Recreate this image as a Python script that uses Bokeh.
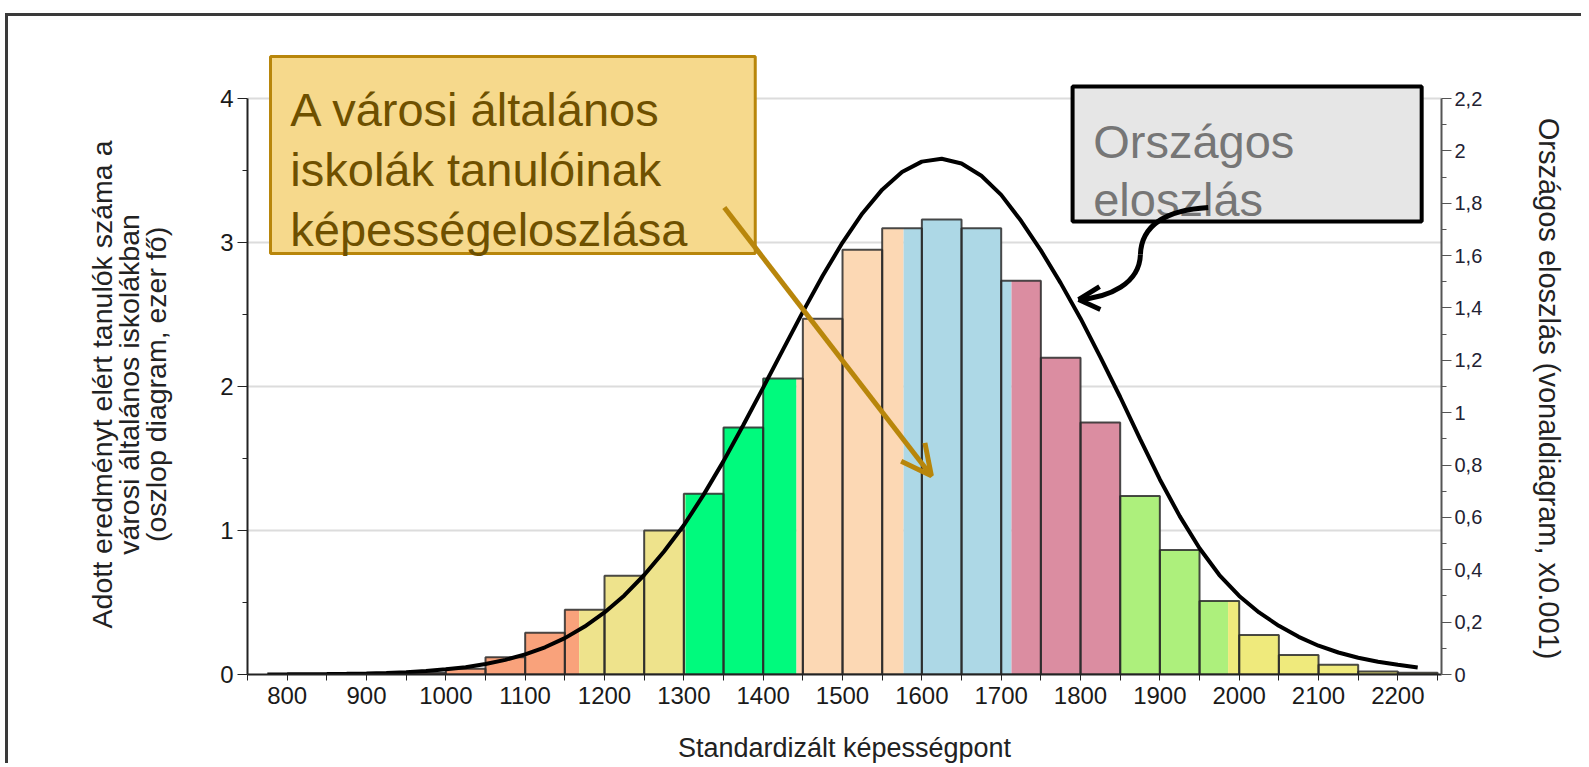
from bokeh.plotting import figure
from bokeh.models import (Range1d, LinearAxis, FixedTicker, BoxAnnotation, Label, Arrow,
                          OpenHead, Title)
from bokeh.embed import file_html
from bokeh.resources import INLINE

FONT = "Liberation Sans"

# ---------------- data ----------------
bin_starts = [800, 850, 900, 950, 1000, 1050, 1100, 1150, 1200, 1250, 1300, 1350, 1400, 1450,
              1500, 1550, 1600, 1650, 1700, 1750, 1800, 1850, 1900, 1950, 2000, 2050, 2100,
              2150, 2200]
bin_counts = [0.003, 0.004, 0.006, 0.01, 0.04, 0.12, 0.29, 0.45, 0.685, 1.0, 1.255, 1.715,
              2.055, 2.47, 2.95, 3.10, 3.16, 3.10, 2.735, 2.20, 1.75, 1.24, 0.865, 0.51,
              0.275, 0.135, 0.068, 0.02, 0.012]
BIN_W = 50

# ability-level bands (boundaries on the score axis) and their colours
level_edges = [1168, 1302, 1442, 1577, 1713, 1850, 1986]
level_colors = ["#F9A27B", "#EEE38C", "#00FA7D", "#FCD8B4", "#ADD8E6", "#DB8DA1",
                "#ADF07C", "#EFEA7C"]

# national distribution curve (right axis, x0.001)
curve_x = list(range(775, 2250, 25))
curve_y = [0.0004, 0.0006, 0.001, 0.0016, 0.0026, 0.004, 0.006, 0.009, 0.0135, 0.0197,
           0.028, 0.040, 0.056, 0.077, 0.104, 0.139, 0.183, 0.237, 0.302, 0.380, 0.470,
           0.570, 0.687, 0.815, 0.953, 1.096, 1.241, 1.385, 1.523, 1.650, 1.761, 1.852,
           1.919, 1.959, 1.970, 1.952, 1.905, 1.832, 1.733, 1.620, 1.495, 1.360, 1.212,
           1.060, 0.900, 0.745, 0.605, 0.482, 0.380, 0.300, 0.237, 0.186, 0.144, 0.110,
           0.084, 0.064, 0.049, 0.037, 0.027]

x_ticks = [800, 900, 1000, 1100, 1200, 1300, 1400, 1500, 1600, 1700, 1800, 1900, 2000, 2100, 2200]
x_minor = [750, 850, 950, 1050, 1150, 1250, 1350, 1450, 1550, 1650, 1750, 1850, 1950, 2050, 2150, 2250]
left_ticks = [0, 1, 2, 3, 4]
left_minor = [0.5, 1.5, 2.5, 3.5]
right_ticks = [0, 0.2, 0.4, 0.6, 0.8, 1.0, 1.2, 1.4, 1.6, 1.8, 2.0, 2.2]
right_labels = ["0", "0,2", "0,4", "0,6", "0,8", "1", "1,2", "1,4", "1,6", "1,8", "2", "2,2"]
right_minor = [0.1, 0.3, 0.5, 0.7, 0.9, 1.1, 1.3, 1.5, 1.7, 1.9, 2.1]

x_title = "Standardizált képességpont"
left_title = ["Adott eredményt elért tanulók száma a", "városi általános iskolákban",
              "(oszlop diagram, ezer fő)"]
right_title = "Országos eloszlás (vonaldiagram, x0.001)"
note_city = ["A városi általános", "iskolák tanulóinak", "képességeloszlása"]
note_nat = ["Országos", "eloszlás"]

# approximate advance widths (per 1000 em) of Liberation Sans, for centring side titles
ADV = {' ': 278, '(': 333, ')': 333, ',': 278, '.': 278, '0': 556, '1': 556, 'A': 667,
       'O': 778, 'S': 667, 'a': 556, 'b': 556, 'd': 556, 'e': 556, 'f': 278, 'g': 556,
       'i': 222, 'k': 500, 'l': 222, 'm': 833, 'n': 556, 'o': 556, 'p': 556, 'r': 333,
       's': 500, 't': 278, 'u': 556, 'v': 500, 'x': 500, 'y': 500, 'z': 500, 'á': 556,
       'é': 556, 'ó': 556, 'ő': 556}


def text_len(s, px):
    return sum(ADV.get(c, 556) for c in s) / 1000.0 * px


FRAME_H = 635          # pixel height of the plot frame
FRAME_BOTTOM_TO_CENTER = 290  # distance from frame bottom to centre of the 0..4 axis

# ---------------- figure ----------------
p = figure(width=1576, height=750, x_range=Range1d(750, 2255), y_range=Range1d(0, 4.41),
           output_backend="svg", toolbar_location=None,
           min_border_left=239, min_border_right=143, min_border_top=23, min_border_bottom=92)
p.extra_y_ranges = {"nat": Range1d(0, 2.4255)}
p.outline_line_color = None
p.background_fill_color = "white"
p.border_fill_color = "white"
p.styles = {"border-top": "3px solid #3a3a3a", "border-left": "3px solid #3a3a3a",
            "margin-top": "13px", "margin-left": "5px"}

# coloured bar segments
bounds = [-1e9] + level_edges + [1e9]
seg_l, seg_r, seg_t, seg_c = [], [], [], []
for lo, h in zip(bin_starts, bin_counts):
    hi = lo + BIN_W
    for k, col in enumerate(level_colors):
        a = max(lo, bounds[k])
        b = min(hi, bounds[k + 1])
        if b > a:
            seg_l.append(a); seg_r.append(b); seg_t.append(h); seg_c.append(col)
p.quad(left=seg_l, right=seg_r, bottom=0, top=seg_t, fill_color=seg_c, line_color=None)
p.quad(left=bin_starts, right=[s + BIN_W for s in bin_starts], bottom=0, top=bin_counts,
       fill_color=None, line_color="#2a2a2a", line_alpha=0.85, line_width=2)

# national curve
p.line(curve_x, curve_y, y_range_name="nat", line_color="black", line_width=4)

# ---------------- axes ----------------
xa = p.xaxis[0]
xa.ticker = FixedTicker(ticks=x_ticks, minor_ticks=x_minor)
xa.axis_line_color = "#222222"
xa.axis_line_width = 2
xa.major_tick_out = 6
xa.major_tick_in = 0
xa.minor_tick_out = 6
xa.minor_tick_in = 0
xa.major_tick_line_color = "#222222"
xa.minor_tick_line_color = "#222222"
xa.major_label_text_font = FONT
xa.major_label_text_font_size = "24px"
xa.major_label_text_color = "#1a1a1a"
xa.major_label_standoff = 6
xa.axis_label = x_title
xa.axis_label_text_font = FONT
xa.axis_label_text_font_size = "27px"
xa.axis_label_text_font_style = "normal"
xa.axis_label_text_color = "#222222"
xa.axis_label_standoff = 26

ya = p.yaxis[0]
ya.ticker = FixedTicker(ticks=left_ticks, minor_ticks=left_minor)
ya.bounds = (0, 4)
ya.axis_line_color = "#222222"
ya.axis_line_width = 2
ya.major_tick_out = 10
ya.major_tick_in = 0
ya.minor_tick_out = 5
ya.minor_tick_in = 0
ya.major_tick_line_color = "#222222"
ya.minor_tick_line_color = "#222222"
ya.major_label_text_font = FONT
ya.major_label_text_font_size = "24px"
ya.major_label_text_color = "#1a1a1a"
ya.major_label_standoff = 4

ra = LinearAxis(y_range_name="nat", ticker=FixedTicker(ticks=right_ticks, minor_ticks=right_minor),
                bounds=(0, 2.2))
ra.major_label_overrides = {t: l for t, l in zip(right_ticks, right_labels)}
ra.axis_line_color = "#555555"
ra.axis_line_width = 2
ra.major_tick_out = 10
ra.major_tick_in = 0
ra.minor_tick_out = 5
ra.minor_tick_in = 0
ra.major_tick_line_color = "#555555"
ra.minor_tick_line_color = "#555555"
ra.major_label_text_font = FONT
ra.major_label_text_font_size = "20px"
ra.major_label_text_color = "#222233"
ra.major_label_standoff = 3
p.add_layout(ra, "right")

p.xgrid.visible = False
p.ygrid.ticker = FixedTicker(ticks=[1, 2, 3, 4])
p.ygrid.grid_line_color = "#DCDCDC"
p.ygrid.grid_line_width = 2

# side titles (centred on the bounded 0..4 axis, not on the taller frame)
p.add_layout(Title(text=" ", text_font_size="10px", standoff=35), "left")
LT_PX = 28.5
for txt in reversed(left_title):
    off = FRAME_BOTTOM_TO_CENTER - text_len(txt, LT_PX) / 2
    p.add_layout(Title(text=txt, align="left", offset=off, vertical_align="middle",
                       standoff=-7, text_font=FONT, text_font_size=f"{LT_PX}px",
                       text_font_style="normal", text_color="#222222"), "left")

p.add_layout(Title(text=" ", text_font_size="10px", standoff=33), "right")
RT_PX = 29
r_off = (FRAME_H - FRAME_BOTTOM_TO_CENTER) - text_len(right_title, RT_PX) / 2 + 4
p.add_layout(Title(text=right_title, align="left", offset=r_off, vertical_align="middle",
                   standoff=0, text_font=FONT, text_font_size=f"{RT_PX}px",
                   text_font_style="normal", text_color="#222222"), "right")

# ---------------- annotations ----------------
p.add_layout(BoxAnnotation(left=779, right=1390, bottom=2.924, top=4.292,
                           fill_color="#F6D98C", fill_alpha=1.0,
                           line_color="#B8860B", line_width=3, line_alpha=1.0))
for txt, yy in zip(note_city, [3.924, 3.507, 3.090]):
    p.add_layout(Label(x=804, y=yy, text=txt, text_font=FONT, text_font_size="47px",
                       text_color="#6E5000", text_baseline="alphabetic", text_align="left"))
p.add_layout(Arrow(end=OpenHead(line_color="#B8860B", line_width=5, size=30),
                   x_start=1351, y_start=3.243, x_end=1612, y_end=1.38,
                   line_color="#B8860B", line_width=5))

p.add_layout(BoxAnnotation(left=1790, right=2230, bottom=3.146, top=4.083,
                           fill_color="#E6E6E6", fill_alpha=1.0,
                           line_color="black", line_width=4, line_alpha=1.0))
for txt, yy in zip(note_nat, [3.703, 3.299]):
    p.add_layout(Label(x=1816, y=yy, text=txt, text_font=FONT, text_font_size="47px",
                       text_color="#767676", text_baseline="alphabetic", text_align="left"))

# curved black pointer to the national curve
p.bezier(x0=[1961, 1875.5], y0=[3.243, 2.917], x1=[1875.5, 1797.5], y1=[2.917, 2.604],
         cx0=[1902, 1874.3], cy0=[3.222, 2.715], cx1=[1876.8, 1836.5], cy1=[3.104, 2.618],
         line_color="black", line_width=5, level="overlay")
p.segment(x0=[1797.5, 1797.5], y0=[2.604, 2.604], x1=[1824, 1825], y1=[2.694, 2.535],
          line_color="black", line_width=5, level="overlay")

open("out.html", "w").write(file_html(p, INLINE))
